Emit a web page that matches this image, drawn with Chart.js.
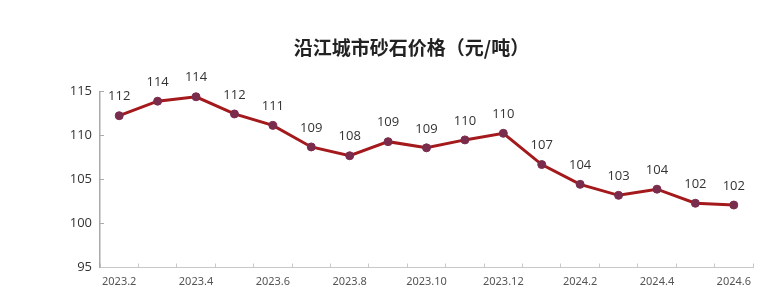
<!DOCTYPE html>
<html>
<head>
<meta charset="utf-8">
<script src="https://cdn.jsdelivr.net/npm/chart.js@4/dist/chart.umd.min.js"></script>
<style>
html,body{margin:0;padding:0;background:#fff;}
#wrap{width:784px;height:299px;}
</style>
</head>
<body>
<div id="wrap"><canvas id="c" width="784" height="299"></canvas></div>
<script>
const categories = ['2023.2','2023.3','2023.4','2023.5','2023.6','2023.7','2023.8','2023.9','2023.10','2023.11','2023.12','2024.1','2024.2','2024.3','2024.4','2024.5','2024.6'];
const prices = [112.25, 113.9, 114.4, 112.45, 111.15, 108.7, 107.7, 109.3, 108.6, 109.5, 110.25, 106.7, 104.45, 103.2, 103.9, 102.3, 102.1];
const yTicks = [95, 100, 105, 110, 115];
const titleText = '沿江城市砂石价格（元/吨）';

const dataLabels = {
  id: 'dataLabels',
  afterDatasetsDraw(chart) {
    const ctx = chart.ctx;
    const meta = chart.getDatasetMeta(0);
    ctx.save();
    ctx.font = '13px "Open Sans", sans-serif';
    ctx.fillStyle = '#333';
    ctx.textAlign = 'center';
    ctx.textBaseline = 'middle';
    meta.data.forEach((pt, i) => {
      ctx.fillText(String(Math.round(prices[i])), pt.x, pt.y - 19);
    });
    ctx.restore();
  }
};

new Chart(document.getElementById('c'), {
  type: 'line',
  data: {
    labels: categories,
    datasets: [{
      data: prices,
      borderColor: '#a3191c',
      borderWidth: 3,
      pointRadius: 4,
      pointBackgroundColor: '#7a2c4d',
      pointBorderColor: '#7a2c4d',
      pointBorderWidth: 1,
      tension: 0,
      clip: false
    }]
  },
  options: {
    responsive: false,
    animation: false,
    devicePixelRatio: 1,
    layout: { padding: { left: 70, right: 31, top: 36, bottom: 0 } },
    plugins: {
      legend: { display: false },
      tooltip: { enabled: false },
      title: {
        display: true,
        text: titleText,
        color: '#222',
        font: { family: '"Noto Sans CJK SC", sans-serif', size: 19, weight: 'bold' },
        padding: { top: 0, bottom: 32.7 }
      }
    },
    scales: {
      x: {
        offset: true,
        afterFit: s => { s.height = 31.5; },
        grid: { offset: true, drawOnChartArea: false, drawTicks: true, tickLength: -4, color: '#c8c8c8' },
        border: { color: '#c8c8c8', width: 1 },
        ticks: {
          autoSkip: false,
          maxRotation: 0,
          padding: 12,
          color: '#555',
          font: { family: '"Noto Sans", sans-serif', size: 11 },
          callback: function(v, i) { return i % 2 === 0 ? categories[i] : ''; }
        }
      },
      y: {
        min: 95, max: 115,
        afterFit: s => { s.width = 30; },
        afterBuildTicks: s => { s.ticks = yTicks.map(v => ({ value: v })); },
        grid: { drawOnChartArea: false, drawTicks: true, tickLength: -4, color: '#aaa' },
        border: { color: '#aaa', width: 1.5 },
        ticks: {
          padding: 12,
          color: '#333',
          font: { family: '"Open Sans", sans-serif', size: 13 }
        }
      }
    }
  },
  plugins: [dataLabels]
});
</script>
</body>
</html>
